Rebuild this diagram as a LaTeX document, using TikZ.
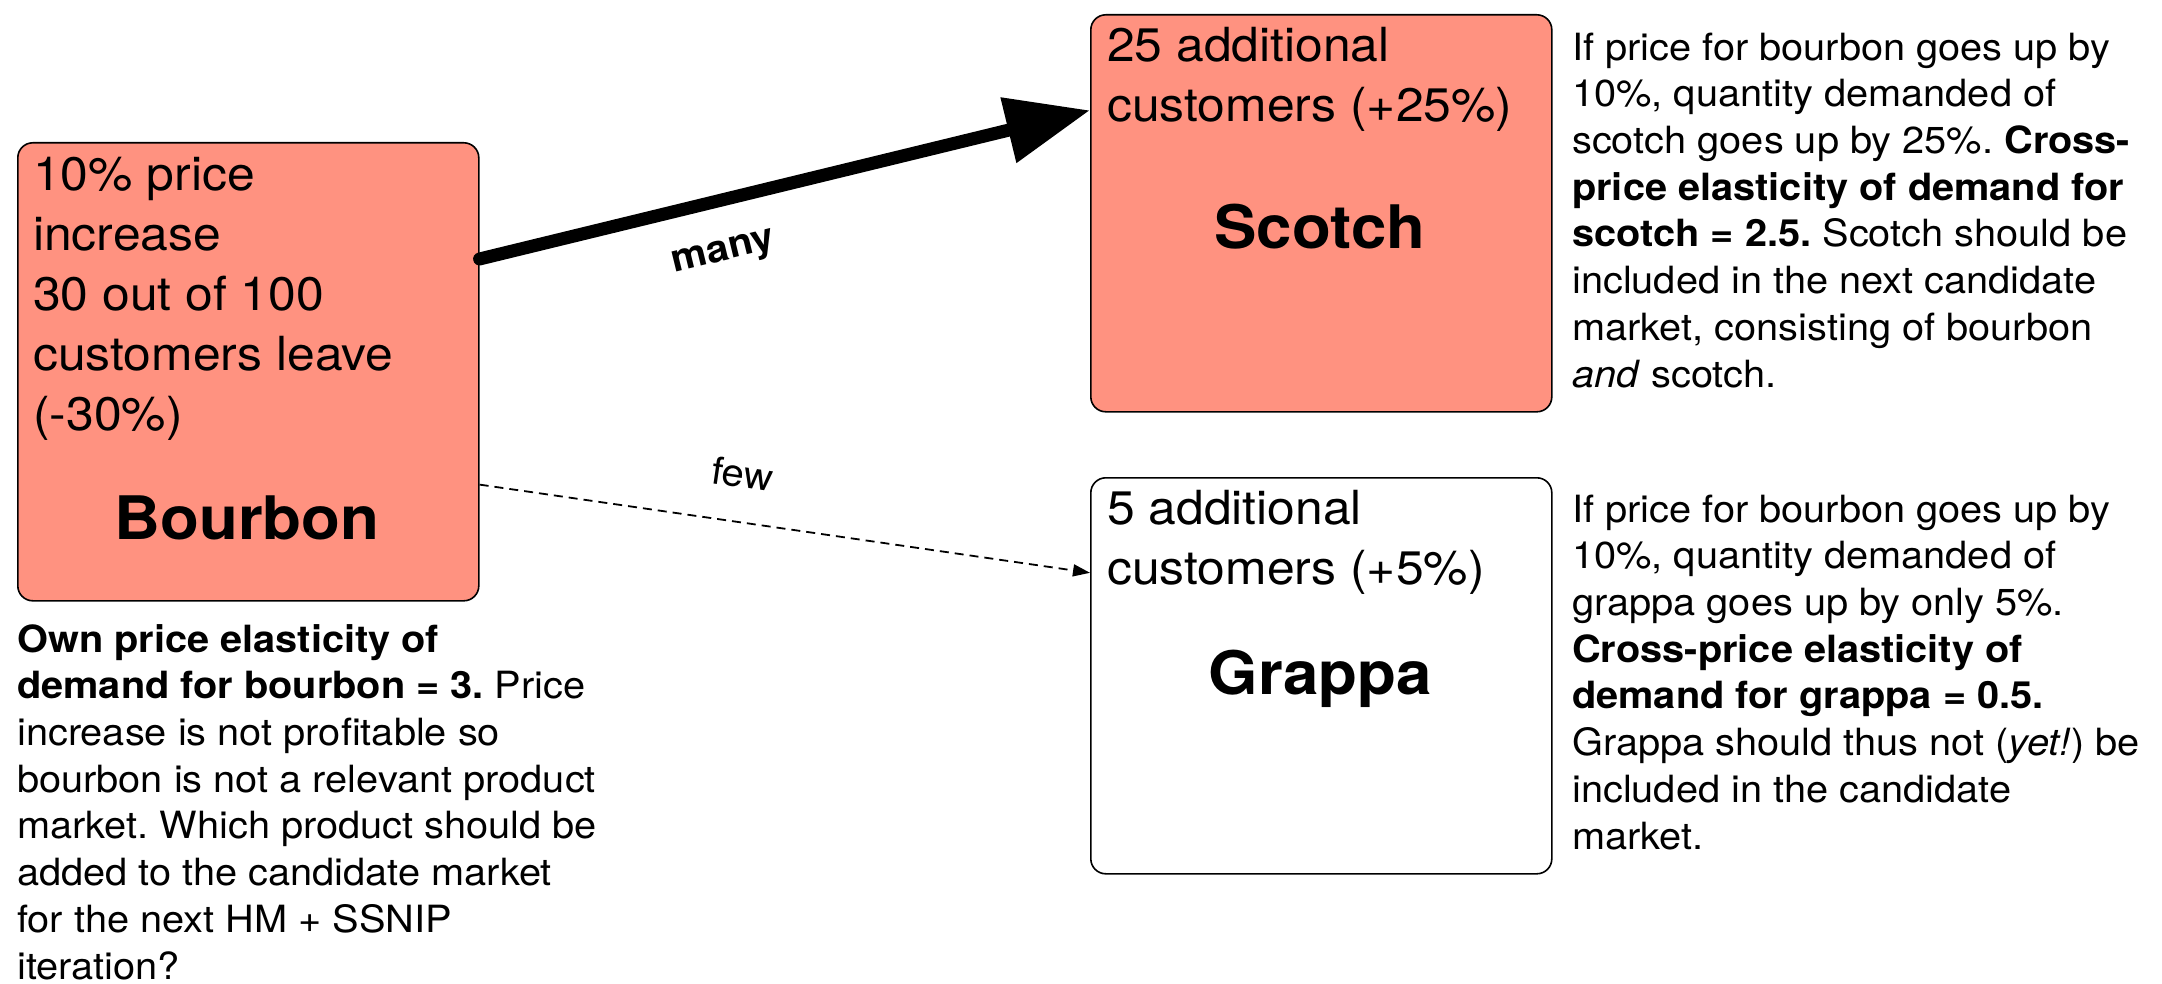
\documentclass[tikz,border=0pt]{standalone}
\usepackage{fontspec}
\setmainfont[FakeStretch=1.06]{TeX Gyre Heros}
\usepackage{xcolor}
\usetikzlibrary{calc,positioning,arrows.meta}
\frenchspacing
\definecolor{salmonfill}{RGB}{255,146,128}
\tikzset{>={Triangle[length=84pt,width=64pt]}}
\tikzset{
  product/.style={draw=black, line width=1.6pt, rounded corners=15pt, minimum width=461pt, anchor=north west, inner sep=0pt},
  boxtext/.style={anchor=base west, align=left, inner sep=0pt, font=\fontsize{47}{60}\selectfont},
  prodname/.style={anchor=base, inner sep=0pt, font=\fontsize{60}{72}\selectfont\bfseries},
  note/.style={anchor=base west, align=left, inner sep=0pt, font=\fontsize{37.5}{46.7}\selectfont},
  linklabel/.style={inner sep=0pt, font=\fontsize{38}{46}\selectfont}
}

\begin{document}
\begin{tikzpicture}[x=1pt,y=-1pt]
    \useasboundingbox (0,0) rectangle (2162,984);
    \node[product, fill=salmonfill, minimum height=458pt] (bourbon) at (17,142) {};
    \node[product, fill=salmonfill, minimum height=397pt] (scotch) at (1090,14) {};
    \node[product, fill=white, minimum height=396pt] (grappa) at (1090,477) {};
    \node[boxtext] (bourbonfacts) at (33,430) {10\% price\\increase\\30 out of 100\\customers leave\\(-30\%)};
    \node[prodname] (bourbonname) at (247,539) {Bourbon};
    \node[boxtext] (scotchfacts) at (1107,122) {25 additional\\customers (+25\%)};
    \node[prodname] (scotchname) at (1320,249) {Scotch};
    \node[boxtext] (grappafacts) at (1107,584) {5 additional\\customers (+5\%)};
    \node[prodname] (grappaname) at (1320,694) {Grappa};
    \node[note] (scotchnote) at (1572,387) {If price for bourbon goes up by\\10\%, quantity demanded of\\scotch goes up by 25\%. \textbf{Cross-}\\\textbf{price elasticity of demand for}\\\textbf{scotch = 2.5.} Scotch should be\\included in the next candidate\\market, consisting of bourbon\\\textit{and} scotch.};
    \node[note] (grappanote) at (1572,849) {If price for bourbon goes up by\\10\%, quantity demanded of\\grappa goes up by only 5\%.\\\textbf{Cross-price elasticity of}\\\textbf{demand for grappa = 0.5.}\\Grappa should thus not (\textit{yet!}) be\\included in the candidate\\market.};
    \node[note] (bourbonnote) at (17,979) {\textbf{Own price elasticity of}\\\textbf{demand for bourbon = 3.} Price\\increase is not profitable so\\bourbon is not a relevant product\\market. Which product should be\\added to the candidate market\\for the next HM + SSNIP\\iteration?};
    \draw[->, line width=13pt, line cap=round] (bourbon.26.2) -- node[pos=0.38, sloped, below=32pt, linklabel, font=\fontsize{38}{46}\selectfont\bfseries] (manylabel) {many} (scotch.156.7);
    \draw[-{Triangle[length=17pt,width=12pt]}, line width=1.8pt, dash pattern=on 9pt off 6pt] (bourbon.-26.3) -- node[pos=0.42, sloped, above=33pt, linklabel] (fewlabel) {few} (grappa.156.6);
\end{tikzpicture}
\end{document}
